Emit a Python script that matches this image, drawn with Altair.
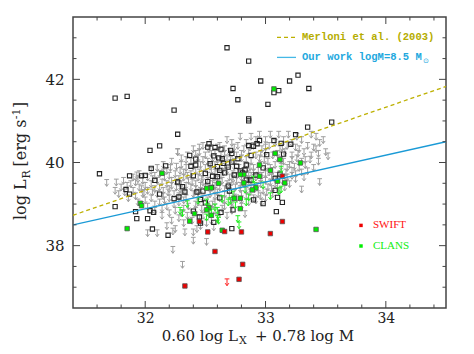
import altair as alt
import pandas as pd

# ---------------- data ----------------
open_squares = [
    (32.68, 42.76), (32.86, 42.44), (32.96, 41.96), (32.73, 41.78), (32.77, 41.51),
    (33.07, 41.68), (33.11, 41.73), (33.20, 41.96), (33.27, 42.10), (33.36, 41.78),
    (33.02, 41.40), (32.86, 41.05), (32.86, 41.00), (31.75, 41.55), (31.85, 41.59),
    (32.24, 41.26), (32.27, 40.68), (33.35, 40.85), (33.55, 40.97), (33.25, 40.67),
    (33.21, 40.44), (31.62, 39.73), (32.04, 40.29), (32.12, 40.40), (32.37, 40.17),
    (31.75, 38.94), (31.92, 38.82), (31.93, 38.65), (32.02, 38.65), (32.06, 38.40),
    (32.07, 38.80), (32.04, 38.84), (32.19, 38.25), (31.84, 39.35), (31.87, 39.68),
    (31.97, 39.68), (32.00, 39.69), (32.05, 39.86), (32.08, 39.57), (32.17, 39.92),
    (32.12, 39.24), (31.87, 39.24), (32.24, 39.13), (32.28, 39.17), (32.33, 39.29),
    (32.27, 39.53), (32.31, 39.42), (32.40, 39.68), (32.42, 39.94), (32.42, 40.08),
    (32.52, 40.37), (32.53, 40.45), (32.58, 40.36), (32.63, 40.32), (32.57, 40.16),
    (32.61, 40.11), (32.64, 40.09), (32.54, 39.97), (32.60, 39.90), (32.62, 39.81),
    (32.66, 39.75), (32.56, 39.67), (32.60, 39.66), (32.50, 39.74), (32.52, 39.54),
    (32.48, 39.31), (32.43, 39.29), (32.46, 39.11), (32.50, 39.03), (32.40, 38.83),
    (32.45, 38.69), (32.46, 38.54), (32.57, 38.56), (32.63, 38.80), (32.62, 39.15),
    (32.70, 39.31), (32.69, 39.43), (32.73, 38.86), (32.72, 38.41), (32.71, 40.29),
    (32.72, 40.22), (32.72, 40.01), (32.69, 39.89), (32.76, 39.91), (32.77, 40.09),
    (32.83, 39.82), (32.84, 39.94), (32.84, 39.58), (32.86, 40.41), (32.90, 40.39),
    (32.93, 40.45), (32.95, 40.53), (32.88, 40.17), (32.88, 39.58), (32.90, 39.10),
    (32.98, 39.87), (33.01, 40.19), (33.07, 40.53), (33.13, 40.46), (33.15, 40.20),
    (33.12, 39.72), (33.08, 39.62), (33.08, 39.33), (33.10, 39.16), (33.14, 39.04),
    (33.09, 38.82), (32.98, 39.01), (32.38, 39.91), (32.79, 39.80), (32.81, 39.75),
    (32.74, 39.70), (32.65, 39.98), (32.92, 39.70), (32.55, 39.40),
]

gray_limits = [
    (32.95, 40.75), (33.04, 40.75), (33.11, 40.75), (33.19, 40.75), (33.38, 40.75),
    (32.79, 40.70), (32.88, 40.70), (33.26, 40.70), (33.42, 40.70),
    (32.68, 40.62), (32.92, 40.62), (33.00, 40.62), (33.15, 40.62), (33.30, 40.62), (33.48, 40.62),
    (32.55, 40.55), (32.72, 40.55), (32.84, 40.55), (33.08, 40.55), (33.22, 40.55), (33.45, 40.55),
    (32.48, 40.48), (32.62, 40.48), (32.77, 40.48), (32.90, 40.48), (33.03, 40.48), (33.18, 40.48), (33.35, 40.48),
    (32.40, 40.40), (32.53, 40.40), (32.66, 40.40), (32.82, 40.40), (32.97, 40.40), (33.12, 40.40), (33.28, 40.40), (33.42, 40.40),
    (32.27, 40.33), (32.45, 40.33), (32.58, 40.33), (32.70, 40.33), (32.86, 40.33), (33.00, 40.33), (33.16, 40.33), (33.32, 40.33), (33.50, 40.33),
    (32.35, 40.25), (32.50, 40.25), (32.63, 40.25), (32.76, 40.25), (32.92, 40.25), (33.06, 40.25), (33.22, 40.25), (33.38, 40.25), (33.52, 40.23),
    (32.30, 40.18), (32.44, 40.18), (32.56, 40.18), (32.68, 40.18), (32.80, 40.18), (32.95, 40.18), (33.10, 40.18), (33.26, 40.18), (33.37, 40.15),
    (32.22, 40.10), (32.38, 40.10), (32.52, 40.10), (32.64, 40.10), (32.74, 40.10), (32.88, 40.10), (33.02, 40.10), (33.15, 40.10), (33.30, 40.10), (33.44, 40.10),
    (32.15, 40.02), (32.30, 40.02), (32.46, 40.02), (32.58, 40.02), (32.70, 40.02), (32.83, 40.02), (32.96, 40.02), (33.08, 40.02), (33.20, 40.02), (33.33, 40.02),
    (32.10, 39.95), (32.21, 39.95), (32.34, 39.95), (32.50, 39.95), (32.62, 39.95), (32.78, 39.95), (32.90, 39.95), (33.04, 39.95), (33.18, 39.95), (33.28, 39.95), (33.40, 39.95),
    (32.05, 39.88), (32.18, 39.88), (32.29, 39.88), (32.42, 39.88), (32.55, 39.88), (32.68, 39.88), (32.82, 39.88), (32.94, 39.88), (33.06, 39.88), (33.22, 39.88), (33.35, 39.87),
    (31.95, 39.80), (32.12, 39.80), (32.25, 39.80), (32.38, 39.80), (32.48, 39.80), (32.60, 39.80), (32.73, 39.80), (32.86, 39.80), (33.00, 39.80), (33.12, 39.80), (33.25, 39.80),
    (31.90, 39.72), (32.02, 39.72), (32.16, 39.72), (32.32, 39.72), (32.44, 39.72), (32.57, 39.72), (32.70, 39.72), (32.80, 39.72), (32.92, 39.72), (33.05, 39.72), (33.18, 39.72), (33.32, 39.72),
    (31.82, 39.64), (31.98, 39.64), (32.10, 39.64), (32.22, 39.64), (32.36, 39.64), (32.52, 39.64), (32.64, 39.64), (32.76, 39.64), (32.88, 39.64), (33.00, 39.64), (33.14, 39.64), (33.45, 39.61),
    (31.68, 39.59), (31.88, 39.56), (32.05, 39.56), (32.18, 39.56), (32.30, 39.56), (32.42, 39.56), (32.56, 39.56), (32.68, 39.56), (32.82, 39.56), (32.96, 39.56), (33.08, 39.56), (33.20, 39.56),
    (31.80, 39.48), (31.95, 39.48), (32.12, 39.48), (32.26, 39.48), (32.38, 39.48), (32.50, 39.48), (32.62, 39.48), (32.75, 39.48), (32.88, 39.48), (33.02, 39.48), (33.16, 39.48), (33.30, 39.43),
    (31.75, 39.40), (31.90, 39.40), (32.02, 39.40), (32.15, 39.40), (32.33, 39.40), (32.46, 39.40), (32.58, 39.40), (32.70, 39.40), (32.84, 39.40), (32.98, 39.40), (33.12, 39.40),
    (31.78, 39.32), (31.98, 39.32), (32.10, 39.32), (32.24, 39.32), (32.40, 39.32), (32.54, 39.32), (32.66, 39.32), (32.80, 39.32), (32.94, 39.32), (33.06, 39.32),
    (31.86, 39.22), (32.05, 39.22), (32.20, 39.22), (32.34, 39.22), (32.48, 39.22), (32.62, 39.22), (32.76, 39.22), (32.90, 39.22), (33.00, 39.22),
    (31.94, 39.12), (32.12, 39.12), (32.28, 39.12), (32.44, 39.12), (32.58, 39.12), (32.72, 39.12), (32.86, 39.12), (32.97, 39.12),
    (32.02, 39.02), (32.18, 39.02), (32.36, 39.02), (32.52, 39.02), (32.66, 39.02), (32.80, 39.02),
    (32.08, 38.92), (32.25, 38.92), (32.42, 38.92), (32.58, 38.92), (32.72, 38.92),
    (32.14, 38.80), (32.35, 38.80), (32.48, 38.80), (32.68, 38.80), (32.83, 38.84),
    (32.22, 38.68), (32.39, 38.68), (32.55, 38.68),
    (32.18, 38.55), (32.46, 38.55), (32.57, 38.52),
    (32.02, 38.38), (32.10, 38.38), (32.23, 38.42), (32.33, 38.40), (32.40, 38.40),
    (32.40, 38.20), (32.51, 38.17), (32.23, 37.98), (32.31, 37.62),
    (32.27, 40.33), (31.93, 39.77), (31.99, 39.35),
    (32.45, 40.44), (32.60, 40.44), (32.74, 40.44), (32.87, 40.44), (33.00, 40.44), (33.14, 40.44), (33.25, 40.44), (33.40, 40.44),
    (32.42, 40.29), (32.55, 40.29), (32.66, 40.29), (32.80, 40.29), (32.96, 40.29), (33.10, 40.29), (33.27, 40.29), (33.44, 40.29),
    (32.34, 40.14), (32.48, 40.14), (32.60, 40.14), (32.71, 40.14), (32.84, 40.14), (32.99, 40.14), (33.13, 40.14), (33.22, 40.14), (33.33, 40.14),
    (32.26, 39.98), (32.40, 39.98), (32.54, 39.98), (32.66, 39.98), (32.74, 39.98), (32.87, 39.98), (33.00, 39.98), (33.13, 39.98), (33.24, 39.98),
    (32.15, 39.84), (32.32, 39.84), (32.45, 39.84), (32.58, 39.84), (32.65, 39.84), (32.78, 39.84), (32.90, 39.84), (33.03, 39.84), (33.17, 39.84), (33.30, 39.84),
    (32.08, 39.76), (32.20, 39.76), (32.35, 39.76), (32.52, 39.76), (32.63, 39.76), (32.76, 39.76), (32.88, 39.76), (32.97, 39.76), (33.10, 39.76), (33.22, 39.76),
    (31.94, 39.68), (32.06, 39.68), (32.28, 39.68), (32.47, 39.68), (32.60, 39.68), (32.73, 39.68), (32.85, 39.68), (32.96, 39.68), (33.08, 39.68), (33.25, 39.68),
    (31.76, 39.60), (31.92, 39.60), (32.14, 39.60), (32.26, 39.60), (32.39, 39.60), (32.48, 39.60), (32.60, 39.60), (32.72, 39.60), (32.86, 39.60), (33.04, 39.60), (33.17, 39.60),
    (31.85, 39.52), (32.00, 39.52), (32.22, 39.52), (32.34, 39.52), (32.46, 39.52), (32.58, 39.52), (32.70, 39.52), (32.79, 39.52), (32.93, 39.52), (33.10, 39.52),
    (31.97, 39.44), (32.08, 39.44), (32.20, 39.44), (32.29, 39.44), (32.42, 39.44), (32.54, 39.44), (32.66, 39.44), (32.79, 39.44), (32.91, 39.44), (33.05, 39.44),
    (31.83, 39.36), (32.06, 39.36), (32.19, 39.36), (32.30, 39.36), (32.44, 39.36), (32.60, 39.36), (32.74, 39.36), (32.87, 39.36), (33.01, 39.36),
    (31.92, 39.27), (32.15, 39.27), (32.28, 39.27), (32.44, 39.27), (32.58, 39.27), (32.70, 39.27), (32.84, 39.27), (32.96, 39.27),
    (32.00, 39.17), (32.16, 39.17), (32.32, 39.17), (32.52, 39.17), (32.66, 39.17), (32.80, 39.17), (32.92, 39.17),
    (32.08, 39.07), (32.24, 39.07), (32.42, 39.07), (32.56, 39.07), (32.72, 39.07),
    (32.14, 38.97), (32.32, 38.97), (32.47, 38.97), (32.64, 38.97),
    (32.20, 38.86), (32.30, 38.86), (32.53, 38.86), (32.62, 38.86),
    (32.28, 38.74), (32.45, 38.74), (32.60, 38.74),
    (32.32, 38.62), (32.51, 38.62), (32.25, 38.48), (32.43, 38.48),
]

green_limits = [
    (32.29, 38.92), (32.31, 38.86), (32.35, 39.08), (32.44, 39.16), (32.51, 39.12),
    (32.52, 39.00), (32.55, 38.88), (32.58, 39.00), (32.60, 38.92), (32.61, 38.68),
    (32.51, 38.76), (32.64, 39.20), (32.69, 39.12), (32.73, 39.31), (32.75, 39.05),
    (32.77, 38.72), (32.78, 38.57), (32.84, 39.12), (32.86, 39.24), (32.90, 39.67),
    (32.91, 39.51), (32.98, 39.53), (33.04, 39.27), (33.11, 39.39), (33.13, 39.91),
    (33.13, 39.43), (32.83, 39.43), (32.53, 38.84), (32.60, 38.72), (32.71, 39.16),
]

clans = [
    (33.07, 41.77), (32.14, 39.74), (31.96, 39.02), (31.97, 38.96), (31.85, 38.41),
    (32.37, 38.59), (32.41, 38.77), (32.64, 38.37), (33.42, 38.39), (33.29, 39.99),
    (33.08, 40.22), (33.12, 40.07), (33.04, 39.81), (32.95, 39.94), (32.82, 39.71),
    (32.79, 39.71), (32.82, 39.51), (32.95, 39.67), (32.92, 39.39), (32.89, 39.34),
    (33.10, 39.55), (33.16, 39.51), (32.61, 39.50), (32.51, 39.38), (32.55, 39.39),
    (32.79, 39.14), (32.74, 39.14), (32.79, 38.89), (32.55, 38.73), (32.53, 38.92),
    (32.51, 38.86),
]

swift = [
    (32.33, 37.03), (32.58, 37.86), (32.81, 37.55), (32.78, 37.19), (32.52, 38.33),
    (32.45, 38.58), (32.66, 38.34), (32.80, 38.33), (33.04, 38.29), (33.14, 38.58),
    (33.14, 39.67),
]
swift_limits = [(32.68, 37.20)]

merloni_x = [31.4, 34.5]
merloni_y = [38.73, 41.83]
ours_x = [31.4, 34.5]
ours_y = [38.50, 40.50]

x_major = [32, 33, 34]
x_minor = [31.6, 31.8, 32.2, 32.4, 32.6, 32.8, 33.2, 33.4, 33.6, 33.8, 34.2, 34.4]
y_major = [38, 40, 42]
y_minor = [37.0, 37.5, 38.5, 39.0, 39.5, 40.5, 41.0, 41.5, 42.5, 43.0]

# ---------------- chart ----------------
W, H = 373, 291
FRAME = "#444444"
SERIF = "DejaVu Serif"
MONO = "Liberation Mono"

def df(pairs):
    return pd.DataFrame(pairs, columns=["x", "y"])

xs = alt.Scale(domain=[31.4, 34.5], nice=False, zero=False)
ys = alt.Scale(domain=[36.5, 43.5], nice=False, zero=False)
X = alt.X("x:Q", scale=xs, axis=alt.Axis(values=x_major, format="d", ticks=False, tickSize=0,
                                         domain=False, grid=False, title=None,
                                         labelFont=SERIF, labelFontSize=14, labelColor="#222222",
                                         labelPadding=3))
Y = alt.Y("y:Q", scale=ys, axis=alt.Axis(values=y_major, format="d", ticks=False, tickSize=0,
                                         domain=False, grid=False, title=None,
                                         labelFont=SERIF, labelFontSize=15, labelColor="#222222",
                                         labelPadding=9))

ARROW = "M-0.7,0L0.7,0M0,0L0,2M-0.55,1.25L0,2L0.55,1.25"

layers = []
layers.append(alt.Chart(df(gray_limits)).mark_point(shape=ARROW, filled=False, size=46,
              strokeWidth=1.0, color="#9e9e9e", opacity=1).encode(x=X, y=Y))
layers.append(alt.Chart(df(open_squares)).mark_point(shape="square", filled=False, size=18,
              strokeWidth=1.1, color="#222222", opacity=1).encode(x=X, y=Y))
layers.append(alt.Chart(df(green_limits)).mark_point(shape=ARROW, filled=False, size=46,
              strokeWidth=1.0, color="#22ee22", opacity=1).encode(x=X, y=Y))
layers.append(alt.Chart(df(clans)).mark_square(size=20, fill="#00ee00", stroke="#555555",
              strokeWidth=0.8, opacity=1).encode(x=X, y=Y))
layers.append(alt.Chart(df(swift)).mark_square(size=20, fill="#ee0000", stroke="#555555",
              strokeWidth=0.8, opacity=1).encode(x=X, y=Y))
layers.append(alt.Chart(df(swift_limits)).mark_point(shape=ARROW, filled=False, size=46,
              strokeWidth=1.0, color="#ff2222", opacity=1).encode(x=X, y=Y))

layers.append(alt.Chart(pd.DataFrame({"x": merloni_x, "y": merloni_y})).mark_line(
    color="#bdb000", strokeWidth=1.3, strokeDash=[4, 3], clip=True).encode(x=X, y=Y))
layers.append(alt.Chart(pd.DataFrame({"x": ours_x, "y": ours_y})).mark_line(
    color="#1a9ad6", strokeWidth=1.3, clip=True).encode(x=X, y=Y))

# ticks on all four sides, pointing inward
def xticks(vals, length):
    d = pd.DataFrame({"x": vals})
    b = alt.Chart(d).mark_rule(color=FRAME, strokeWidth=1).encode(
        x=X, y=alt.value(H), y2=alt.value(H - length))
    t = alt.Chart(d).mark_rule(color=FRAME, strokeWidth=1).encode(
        x=X, y=alt.value(0), y2=alt.value(length))
    return [b, t]

def yticks(vals, length):
    d = pd.DataFrame({"y": vals})
    l = alt.Chart(d).mark_rule(color=FRAME, strokeWidth=1).encode(
        y=Y, x=alt.value(0), x2=alt.value(length))
    r = alt.Chart(d).mark_rule(color=FRAME, strokeWidth=1).encode(
        y=Y, x=alt.value(W), x2=alt.value(W - length))
    return [l, r]

layers += xticks(x_major, 7) + xticks(x_minor, 3.5) + yticks(y_major, 7) + yticks(y_minor, 3.5)

one = pd.DataFrame({"a": [0]})

def txt(s, x, y, **kw):
    return alt.Chart(one).mark_text(text=s, **kw).encode(x=alt.value(x), y=alt.value(y))

def seg(x1, x2, y, **kw):
    return alt.Chart(one).mark_rule(**kw).encode(x=alt.value(x1), x2=alt.value(x2), y=alt.value(y))

# legend (top right)
layers.append(seg(204, 223, 20.4, color="#bdb000", strokeWidth=1.3, strokeDash=[4, 3]))
layers.append(txt("Merloni et al. (2003)", 229, 20.4, font=MONO, fontSize=10.5, fontWeight="bold",
                  color="#b5ad00", align="left", baseline="middle"))
layers.append(seg(204, 223, 40.4, color="#45b8e6", strokeWidth=1.3))
layers.append(txt("Our work logM=8.5 M", 229, 40.4, font=MONO, fontSize=10.5, fontWeight="bold",
                  color="#22a8de", align="left", baseline="middle"))
layers.append(txt("\u2299", 350, 44, font="DejaVu Sans", fontSize=7, color="#22a8de",
                  align="left", baseline="middle"))

# legend (bottom right)
layers.append(alt.Chart(one).mark_square(size=12, color="#ee0000", opacity=1).encode(
    x=alt.value(288), y=alt.value(208.4)))
layers.append(txt("SWIFT", 300, 208.4, font="Liberation Serif", fontSize=11, color="#ff1010",
                  align="left", baseline="middle"))
layers.append(alt.Chart(one).mark_square(size=12, color="#00ee00", opacity=1).encode(
    x=alt.value(288), y=alt.value(229)))
layers.append(txt("CLANS", 300, 229, font="Liberation Serif", fontSize=11, color="#10ee10",
                  align="left", baseline="middle"))

# x title with subscript
TC = "#222222"
XT = 323.5
layers.append(txt("0.60 log L", 165, XT, font=SERIF, fontSize=15, color=TC, align="right",
                  baseline="alphabetic"))
layers.append(txt("X", 166, XT, font=SERIF, fontSize=11, color=TC, align="left",
                  baseline="alphabetic", dy=3))
layers.append(txt("+ 0.78 log M", 182, XT, font=SERIF, fontSize=15, color=TC, align="left",
                  baseline="alphabetic"))

# y title (rotated) with subscript and superscript
YX = -47
layers.append(txt("log L", YX, 162.3, font=SERIF, fontSize=16, color=TC, angle=270,
                  align="right", baseline="alphabetic"))
layers.append(txt("R", YX, 161.5, font=SERIF, fontSize=11, color=TC, angle=270,
                  align="left", baseline="alphabetic", dy=4))
layers.append(txt("[erg s", YX, 149.5, font=SERIF, fontSize=16, color=TC, angle=270,
                  align="left", baseline="alphabetic"))
layers.append(txt("-1", YX, 102.2, font=SERIF, fontSize=11, color=TC, angle=270,
                  align="left", baseline="alphabetic", dy=-6))
layers.append(txt("]", YX, 91, font=SERIF, fontSize=16, color=TC, angle=270,
                  align="left", baseline="alphabetic"))

chart = alt.layer(*layers).properties(
    width=W, height=H,
    padding={"left": 65, "top": 9, "right": 20, "bottom": 38},
    autosize=alt.AutoSizeParams(type="none"),
).configure_view(stroke=FRAME, strokeWidth=1.5)

chart.save("out.html", embed_options={"renderer": "svg", "actions": False})
